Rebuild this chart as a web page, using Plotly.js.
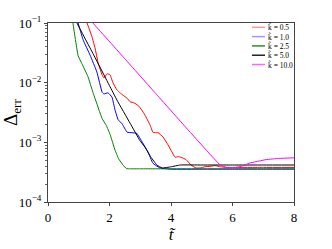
<!DOCTYPE html>
<html>
<head>
<meta charset="utf-8">
<script src="https://cdn.plot.ly/plotly-3.0.1.min.js"></script>
<style>
html,body{margin:0;padding:0;background:#fff;}
#chart{width:332px;height:249px;}
</style>
</head>
<body>
<div id="chart"></div>
<script>
// k = 0.5 (red)
const xK05 = [1.13, 1.27, 1.43, 1.53, 1.63, 1.76, 1.82, 1.92, 2.02, 2.11, 2.24, 2.34, 2.44, 2.57, 2.67, 2.80, 2.93, 3.05, 3.15, 3.32, 3.41, 3.50, 3.58, 3.74, 3.90, 4.03, 4.13, 4.23, 4.33, 4.49, 4.65, 4.81, 4.95, 5.10, 5.30, 5.45, 5.60, 5.80, 6.0, 7.0, 8.0];
const yK05 = [0.158, 0.1, 0.0589, 0.0380, 0.0214, 0.0135, 0.0120, 0.0141, 0.0135, 0.0100, 0.00759, 0.00676, 0.00617, 0.0055, 0.00479, 0.00457, 0.00417, 0.00347, 0.00288, 0.00195, 0.00148, 0.00145, 0.00145, 0.00123, 0.000912, 0.000692, 0.000562, 0.000575, 0.000562, 0.000513, 0.000417, 0.000372, 0.000372, 0.000389, 0.000398, 0.000407, 0.000389, 0.00038, 0.00038, 0.00038, 0.00038];
// k = 1.0 (blue)
const xK10 = [0.87, 0.98, 1.14, 1.37, 1.59, 1.76, 1.82, 1.95, 2.08, 2.18, 2.28, 2.41, 2.57, 2.73, 2.89, 2.99, 3.25, 3.41, 3.64, 4.0, 5.0, 6.0, 7.0, 8.0];
const yK10 = [0.158, 0.1, 0.0525, 0.0288, 0.0151, 0.00692, 0.00646, 0.00676, 0.00575, 0.00347, 0.0024, 0.00204, 0.00148, 0.00145, 0.00141, 0.00117, 0.000692, 0.000447, 0.000372, 0.000355, 0.000355, 0.000355, 0.000355, 0.000355];
// k = 2.5 (green)
const xK25 = [0.76, 0.81, 0.98, 1.10, 1.30, 1.46, 1.66, 1.76, 1.90, 2.02, 2.18, 2.30, 2.44, 2.55, 2.67, 3.0, 4.0, 5.0, 6.0, 7.0, 8.0];
const yK25 = [0.158, 0.1, 0.0282, 0.0209, 0.0126, 0.00692, 0.00347, 0.0025, 0.0019, 0.00135, 0.000741, 0.000525, 0.000417, 0.000363, 0.00036, 0.00036, 0.00036, 0.00036, 0.00036, 0.00036, 0.00036];
// k = 5.0 (black)
const xK50 = [0.74, 0.94, 1.5, 2.0, 2.24, 2.67, 2.99, 3.15, 3.35, 3.54, 3.71, 4.0, 4.3, 5.0, 6.0, 7.0, 8.0];
const yK50 = [0.158, 0.1, 0.0282, 0.00891, 0.00513, 0.00209, 0.00107, 0.000832, 0.000562, 0.000417, 0.000372, 0.000389, 0.000417, 0.000417, 0.000417, 0.000417, 0.000417];
// k = 10.0 (magenta)
const xK100 = [1.2, 1.46, 2.5, 3.5, 4.5, 5.2, 5.6, 5.8, 6.0, 6.3, 6.54, 7.09, 7.5, 8.0];
const yK100 = [0.141, 0.1, 0.0251, 0.00661, 0.00174, 0.000692, 0.000417, 0.00038, 0.000372, 0.000398, 0.000447, 0.000513, 0.000537, 0.00055];

const seriesNames = ['k\u0303 = 0.5', 'k\u0303 = 1.0', 'k\u0303 = 2.5', 'k\u0303 = 5.0', 'k\u0303 = 10.0'];
const xTicks = [0, 2, 4, 6, 8];
const yTicks = [1e-4, 1e-3, 1e-2, 1e-1];
const yTickText = ['10<sup>\u22124</sup>', '10<sup>\u22123</sup>', '10<sup>\u22122</sup>', '10<sup>\u22121</sup>'];

const colors = ['#ff0000', '#0000ff', '#008000', '#000000', '#ff00ff'];
const legendColors = ['#ff9999', '#9999ff', '#2e8b2e', '#222222', '#ff66ff'];
const xs = [xK05, xK10, xK25, xK50, xK100];
const ys = [yK05, yK10, yK25, yK50, yK100];

const traces = xs.map((x, i) => ({
  x: x, y: ys[i], type: 'scatter', mode: 'lines',
  name: seriesNames[i], showlegend: false,
  line: {color: colors[i], width: 1, shape: 'spline', smoothing: 0.3}
}));

const serif = "Liberation Serif, Times New Roman, serif";

// compact legend (upper right, inside the axes)
const legX0 = 0.829, legX1 = 0.882, legTop = 0.976, legStep = 0.052;
const shapes = seriesNames.map((n, i) => ({
  type: 'line', xref: 'paper', yref: 'paper',
  x0: legX0, x1: legX1, y0: legTop - i * legStep, y1: legTop - i * legStep,
  line: {color: legendColors[i], width: 1.5}
}));
const annotations = seriesNames.map((n, i) => ({
  xref: 'paper', yref: 'paper', x: legX1 + 0.004, y: legTop - i * legStep,
  xanchor: 'left', yanchor: 'middle', showarrow: false, text: n,
  font: {family: serif, size: 7.5, color: '#000'}
}));

const layout = {
  width: 332, height: 249,
  margin: {l: 48, r: 38, t: 23, b: 47},
  paper_bgcolor: '#fff', plot_bgcolor: '#fff',
  showlegend: false,
  shapes: shapes, annotations: annotations,
  xaxis: {
    range: [0, 8], tickvals: xTicks, ticktext: xTicks.map(String),
    showgrid: false, zeroline: false,
    showline: true, mirror: true, linecolor: '#444', linewidth: 1,
    ticks: 'outside', ticklen: 3, tickcolor: '#444',
    tickfont: {family: serif, size: 13, color: '#000'},
    title: {text: '<i>t\u0303</i>', font: {family: serif, size: 17, color: '#000'}, standoff: 4}
  },
  yaxis: {
    type: 'log', range: [-4, -1], tickvals: yTicks, ticktext: yTickText,
    showgrid: false, zeroline: false,
    showline: true, mirror: true, linecolor: '#444', linewidth: 1,
    ticks: 'outside', ticklen: 3, tickcolor: '#444',
    minor: {ticks: 'outside', ticklen: 2, tickcolor: '#666', dtick: 'D1', showgrid: false},
    tickfont: {family: serif, size: 13, color: '#000'},
    title: {text: '\u0394<sub>err</sub>', font: {family: serif, size: 19, color: '#000'}, standoff: 2}
  }
};

Plotly.newPlot('chart', traces, layout, {displayModeBar: false, staticPlot: true});
</script>
</body>
</html>
